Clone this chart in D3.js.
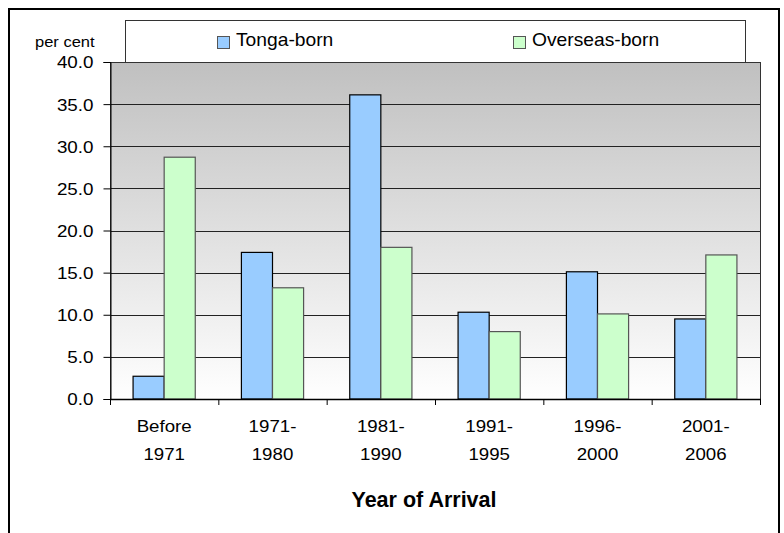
<!DOCTYPE html>
<html><head><meta charset="utf-8">
<script src="https://cdn.jsdelivr.net/npm/d3@7"></script>
<style>body{margin:0;background:#fff}svg{display:block}</style>
</head><body>
<svg id="c" width="784" height="533"></svg>
<script>
const categories = [["Before","1971"],["1971-","1980"],["1981-","1990"],["1991-","1995"],["1996-","2000"],["2001-","2006"]];
const seriesNames = ["Tonga-born","Overseas-born"];
const tongaBorn = [2.7, 17.4, 36.1, 10.3, 15.1, 9.5];
const overseasBorn = [28.7, 13.2, 18.0, 8.0, 10.1, 17.1];
const yTicks = [0,5,10,15,20,25,30,35,40];
const colors = ["#99ccff","#ccffcc"];
const strokes = ["#000","#555"];

const svg = d3.select("#c");
const font = "'Liberation Sans', Arial, sans-serif";
const L = 110, R = 760, T = 62, B = 399;

// text helper with horizontal stretch
function stext(parent, x, y, str, size, sx, anchor, weight){
  return parent.append("text").attr("transform",`translate(${x},${y}) scale(${sx},1)`)
    .attr("text-anchor",anchor||"start").attr("font-family",font).attr("font-size",size)
    .attr("font-weight",weight||"normal").attr("fill","#000").text(str);
}

// outer border
svg.append("rect").attr("x",9).attr("y",9).attr("width",770).attr("height",530)
  .attr("fill","none").attr("stroke","#000").attr("stroke-width",2);

const defs = svg.append("defs");
const g = defs.append("linearGradient").attr("id","bg").attr("x1",0).attr("y1",0).attr("x2",0).attr("y2",1);
g.append("stop").attr("offset","0%").attr("stop-color","#c0c0c0");
g.append("stop").attr("offset","100%").attr("stop-color","#ffffff");

const x0 = d3.scaleBand().domain(d3.range(categories.length)).range([L,R]).padding(0);
const y = d3.scaleLinear().domain([0,40]).range([B,T]);
const bw = x0.bandwidth()*0.287;

svg.append("rect").attr("x",L).attr("y",T).attr("width",R-L).attr("height",B-T).attr("fill","url(#bg)");

// gridlines
svg.append("g").selectAll("line").data(yTicks.filter(d=>d>0)).join("line")
  .attr("x1",L).attr("x2",R).attr("y1",d=>Math.round(y(d))+0.5).attr("y2",d=>Math.round(y(d))+0.5)
  .attr("stroke","#222").attr("stroke-width",1);
// plot border
svg.append("rect").attr("x",L+0.5).attr("y",T+0.5).attr("width",R-L).attr("height",B-T)
  .attr("fill","none").attr("stroke","#333").attr("stroke-width",1);

// legend
svg.append("rect").attr("x",125.5).attr("y",20.5).attr("width",620).attr("height",42)
  .attr("fill","#fff").attr("stroke","#333").attr("stroke-width",1);
const legX = [217, 513];
seriesNames.forEach((n,i)=>{
  svg.append("rect").attr("x",legX[i]+0.5).attr("y",36.5).attr("width",12).attr("height",12)
    .attr("fill",colors[i]).attr("stroke","#555");
  stext(svg, legX[i]+19, 46, n, 18.5, 1.04);
});

// bars
const series = [tongaBorn, overseasBorn];
series.forEach((vals,si)=>{
  svg.append("g").selectAll("rect").data(vals).join("rect")
    .attr("x",(d,i)=>x0(i)+x0.bandwidth()/2 - bw + si*bw)
    .attr("y",d=>y(d)).attr("width",bw).attr("height",d=>B-y(d))
    .attr("fill",colors[si]).attr("stroke",strokes[si]).attr("stroke-width",1.2);
});

// y axis
const sy = 1.14;
const ya = d3.axisLeft(y).tickValues(yTicks).tickFormat(d3.format(".1f")).tickSizeOuter(0).tickSize(7).tickPadding(10);
const yg = svg.append("g").attr("transform",`translate(${L+0.5},0)`).call(ya);
yg.selectAll("text").attr("font-family",font).attr("font-size",16.5).attr("fill","#000")
  .attr("x",-17/sy).attr("dy","0.36em").attr("transform",`scale(${sy},1)`);
yg.selectAll("line,path").attr("stroke","#000");

// x axis line and ticks
svg.append("line").attr("x1",L).attr("x2",R+1).attr("y1",B+0.5).attr("y2",B+0.5).attr("stroke","#000").attr("stroke-width",1.5);
const bounds = d3.range(categories.length+1).map(i=> i<categories.length ? x0(i) : R);
svg.append("g").selectAll("line").data(bounds).join("line")
  .attr("x1",d=>d+0.5).attr("x2",d=>d+0.5).attr("y1",B).attr("y2",B+6).attr("stroke","#000");

// x labels
categories.forEach((c,i)=>{
  const cx = x0(i)+x0.bandwidth()/2;
  stext(svg, cx, 432, c[0], 17, 1.1, "middle");
  stext(svg, cx, 460, c[1], 17, 1.1, "middle");
});

stext(svg, 424, 507, "Year of Arrival", 21.5, 1.0, "middle", "bold");
stext(svg, 35, 47, "per cent", 15, 1.1);
</script>
</body></html>
